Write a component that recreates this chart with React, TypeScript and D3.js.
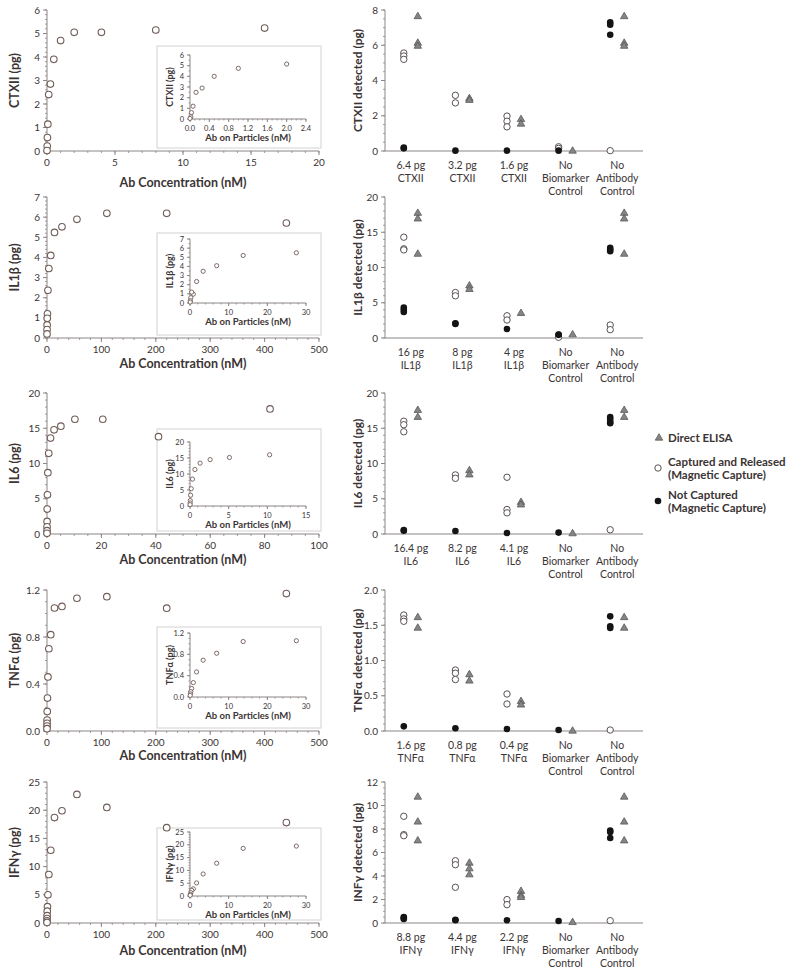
import * as React from "react";
import * as d3 from "d3";

// ---- dose-response (left panels) ----
const ctxAb = [16, 8, 4, 2, 1, 0.5, 0.25, 0.125, 0.0625, 0.031, 0.016, 0];
const ctxPg = [5.23, 5.15, 5.05, 5.05, 4.7, 3.9, 2.85, 2.4, 1.14, 0.57, 0.21, 0.02];
const ctxParticleAb = [2, 1, 0.5, 0.25, 0.125, 0.0625, 0.031, 0.016, 0];
const ctxParticlePg = [5.15, 4.75, 4.0, 2.9, 2.5, 1.2, 0.6, 0.2, 0.05];

const il1bAb = [440, 220, 110, 55, 27.5, 13.75, 6.9, 3.4, 1.7, 0.86, 0.43, 0.21, 0.11, 0.05];
const il1bPg = [5.71, 6.19, 6.19, 5.89, 5.52, 5.24, 4.1, 3.45, 2.37, 1.2, 0.98, 0.65, 0.42, 0.2];
const il1bParticleAb = [27.5, 13.75, 6.9, 3.4, 1.7, 0.86, 0.43, 0.21, 0.1, 0.05];
const il1bParticlePg = [5.49, 5.2, 4.08, 3.47, 2.35, 0.97, 1.19, 0.58, 0.25, 0.1];

const il6Ab = [82, 41, 20.5, 10.25, 5.1, 2.6, 1.3, 0.64, 0.32, 0.16, 0.08, 0.04, 0.02, 0.01, 0];
const il6Pg = [17.74, 13.8, 16.28, 16.28, 15.3, 14.78, 13.6, 11.44, 8.7, 5.55, 3.53, 1.79, 1.03, 0.47, 0.1];
const il6ParticleAb = [10.3, 5.1, 2.6, 1.3, 0.64, 0.32, 0.16, 0.08, 0.04, 0.02, 0.01];
const il6ParticlePg = [16.0, 15.16, 14.5, 13.4, 11.4, 8.4, 5.4, 3.37, 1.68, 0.95, 0.42];

const tnfAb = [440, 220, 110, 55, 27.5, 13.75, 6.9, 3.4, 1.7, 0.86, 0.43, 0.21, 0.11, 0.05, 0.027];
const tnfPg = [1.17, 1.045, 1.143, 1.13, 1.06, 1.047, 0.82, 0.7, 0.46, 0.28, 0.167, 0.093, 0.065, 0.042, 0.02];
const tnfParticleAb = [27.5, 13.75, 6.9, 3.4, 1.7, 0.86, 0.43, 0.21, 0.1, 0.05];
const tnfParticlePg = [1.055, 1.04, 0.82, 0.69, 0.47, 0.27, 0.16, 0.1, 0.06, 0.03];

const ifnAb = [440, 220, 110, 55, 27.5, 13.75, 6.9, 3.4, 1.7, 0.86, 0.43, 0.21, 0.11, 0.05, 0.027];
const ifnPg = [17.8, 16.9, 20.5, 22.8, 19.9, 18.7, 12.9, 8.6, 5.0, 2.9, 2.1, 1.3, 0.8, 0.4, 0.1];
const ifnParticleAb = [27.5, 13.75, 6.9, 3.4, 1.7, 0.86, 0.43, 0.21, 0.1, 0.05];
const ifnParticlePg = [19.5, 18.6, 12.8, 8.6, 5.1, 2.8, 2.2, 1.3, 0.6, 0.25];

// ---- capture experiment (right panels), one list per category ----
const ctxElisa = [[7.63, 6.12, 5.95], [2.98, 2.88], [1.79, 1.53], [0.0], [7.63, 6.12, 5.95]];
const ctxCaptured = [[5.56, 5.39, 5.2], [3.16, 2.73], [1.98, 1.69, 1.37], [0.24, 0.15], [0.02]];
const ctxNotCaptured = [[0.19, 0.15], [0.02], [0.02], [0.02], [7.3, 7.17, 6.6]];

const il1bElisa = [[17.7, 16.9, 11.9], [7.4, 6.9], [3.5], [0.47], [17.7, 16.9, 11.9]];
const il1bCaptured = [[14.3, 12.65, 12.5], [6.45, 5.98], [3.15, 2.55], [0.1], [1.84, 1.18]];
const il1bNotCaptured = [[4.33, 4.0, 3.7], [2.1, 2.0], [1.27], [0.5, 0.45], [12.8, 12.56, 12.3]];

const il6Elisa = [[17.55, 16.56], [9.0, 8.4], [4.5, 4.14], [0.05], [17.55, 16.56]];
const il6Captured = [[16.0, 15.5, 14.5], [8.38, 7.9], [8.05, 3.48, 3.0], [], [0.6]];
const il6NotCaptured = [[0.56, 0.47], [0.42], [0.14], [0.2], [16.6, 16.3, 15.9, 15.7]];

const tnfElisa = [[1.61, 1.46], [0.8, 0.71], [0.42, 0.37], [0.0], [1.61, 1.46]];
const tnfCaptured = [[1.645, 1.59, 1.556], [0.865, 0.82, 0.73], [0.525, 0.383], [], [0.014]];
const tnfNotCaptured = [[0.066], [0.038], [0.028], [0.014], [1.626, 1.485, 1.46]];

const ifnElisa = [[10.72, 8.6, 7.0], [5.1, 4.62, 4.11], [2.7, 2.35, 2.18], [0.05], [10.72, 8.6, 7.0]];
const ifnCaptured = [[9.08, 7.52, 7.43], [5.3, 4.96, 3.04], [1.99, 1.56], [], [0.2]];
const ifnNotCaptured = [[0.51, 0.43, 0.34], [0.28, 0.23], [0.23], [0.17], [7.86, 7.74, 7.23]];

// ---- labels ----
const controls = ["No\nBiomarker\nControl", "No\nAntibody\nControl"];
const ctxCategories = ["6.4 pg\nCTXII", "3.2 pg\nCTXII", "1.6 pg\nCTXII", ...controls];
const il1bCategories = ["16 pg\nIL1β", "8 pg\nIL1β", "4 pg\nIL1β", ...controls];
const il6Categories = ["16.4 pg\nIL6", "8.2 pg\nIL6", "4.1 pg\nIL6", ...controls];
const tnfCategories = ["1.6 pg\nTNFα", "0.8 pg\nTNFα", "0.4 pg\nTNFα", ...controls];
const ifnCategories = ["8.8 pg\nIFNγ", "4.4 pg\nIFNγ", "2.2 pg\nIFNγ", ...controls];

const leftYLabels = ["CTXII (pg)", "IL1β (pg)", "IL6 (pg)", "TNFα (pg)", "IFNγ (pg)"];
const rightYLabels = ["CTXII detected (pg)", "IL1β detected (pg)", "IL6 detected (pg)", "TNFα detected (pg)", "INFγ detected (pg)"];
const legendLabels = [["Direct ELISA"], ["Captured and Released", "(Magnetic Capture)"], ["Not Captured", "(Magnetic Capture)"]];

// ---- ticks ----
const ctxXTicks = [0, 5, 10, 15, 20];
const ctxYTicks = [0, 1, 2, 3, 4, 5, 6];
const ctxInsetXTicks = [0, 0.4, 0.8, 1.2, 1.6, 2.0, 2.4];
const wideXTicks = [0, 100, 200, 300, 400, 500];
const il6XTicks = [0, 20, 40, 60, 80, 100];
const il1bYTicks = [0, 1, 2, 3, 4, 5, 6, 7];
const twentyTicks = [0, 5, 10, 15, 20];
const tnfYTicks = [0, 0.4, 0.8, 1.2];
const ifnYTicks = [0, 5, 10, 15, 20, 25];
const insetXTicks30 = [0, 10, 20, 30];
const il6InsetXTicks = [0, 5, 10, 15];
const ctxRightTicks = [0, 2, 4, 6, 8];
const tnfRightTicks = [0, 0.5, 1.0, 1.5, 2.0];
const ifnRightTicks = [0, 2, 4, 6, 8, 10, 12];

const f0 = d3.format("d");
const f1 = d3.format(".1f");

const rows = [
  { x: ctxAb, y: ctxPg, ix: ctxParticleAb, iy: ctxParticlePg, xt: ctxXTicks, xm: 1, yt: ctxYTicks, ym: 0.2, yf: f0,
    ixt: ctxInsetXTicks, ixm: 0.1, ixf: f1, iyt: ctxYTicks, iym: 0.5, iyf: f0,
    elisa: ctxElisa, cap: ctxCaptured, notCap: ctxNotCaptured, cats: ctxCategories, rt: ctxRightTicks, rm: 0.5, rf: f0 },
  { x: il1bAb, y: il1bPg, ix: il1bParticleAb, iy: il1bParticlePg, xt: wideXTicks, xm: 20, yt: il1bYTicks, ym: 0.2, yf: f0,
    ixt: insetXTicks30, ixm: 2, ixf: f0, iyt: il1bYTicks, iym: 0.5, iyf: f0,
    elisa: il1bElisa, cap: il1bCaptured, notCap: il1bNotCaptured, cats: il1bCategories, rt: twentyTicks, rm: 1, rf: f0 },
  { x: il6Ab, y: il6Pg, ix: il6ParticleAb, iy: il6ParticlePg, xt: il6XTicks, xm: 5, yt: twentyTicks, ym: 1, yf: f0,
    ixt: il6InsetXTicks, ixm: 1, ixf: f0, iyt: twentyTicks, iym: 1, iyf: f0,
    elisa: il6Elisa, cap: il6Captured, notCap: il6NotCaptured, cats: il6Categories, rt: twentyTicks, rm: 1, rf: f0 },
  { x: tnfAb, y: tnfPg, ix: tnfParticleAb, iy: tnfParticlePg, xt: wideXTicks, xm: 20, yt: tnfYTicks, ym: 0.1, yf: f1,
    ixt: insetXTicks30, ixm: 2, ixf: f0, iyt: tnfYTicks, iym: 0.1, iyf: f1,
    elisa: tnfElisa, cap: tnfCaptured, notCap: tnfNotCaptured, cats: tnfCategories, rt: tnfRightTicks, rm: 0.1, rf: f1 },
  { x: ifnAb, y: ifnPg, ix: ifnParticleAb, iy: ifnParticlePg, xt: wideXTicks, xm: 20, yt: ifnYTicks, ym: 1, yf: f0,
    ixt: insetXTicks30, ixm: 2, ixf: f0, iyt: ifnYTicks, iym: 1, iyf: f0,
    elisa: ifnElisa, cap: ifnCaptured, notCap: ifnNotCaptured, cats: ifnCategories, rt: ifnRightTicks, rm: 0.5, rf: f0 },
];

// layout
const rowTops = [10, 197, 393, 590, 782];
const plotH = 141;
const insetBoxTop = [36, 36, 36, 37, 46];
const insetPlotTop = [45, 42, 49, 43, 50];
const xLabelDy = [32, 26, 26, 25, 28];

const FONT = "Lato, 'Open Sans', sans-serif";
const TEXT = "#3b3434";
const AXIS = "#8c8585";
const RING = "#6f5c57";

const minors = (domain, step) => d3.range(domain[0], domain[1] + step / 2, step);

const YAxis = ({ scale, x, ticks, minor, fmt, fs, len = 4 }) => {
  const [y0, y1] = scale.range();
  return (
    <g>
      <line x1={x} x2={x} y1={y0} y2={y1} stroke={AXIS} />
      {minors(scale.domain(), minor).map(v => (
        <line key={"m" + v} x1={x - len / 2} x2={x} y1={scale(v)} y2={scale(v)} stroke={AXIS} strokeWidth={0.8} />
      ))}
      {ticks.map(v => (
        <g key={v}>
          <line x1={x - len} x2={x} y1={scale(v)} y2={scale(v)} stroke={AXIS} />
          <text x={x - len - 3} y={scale(v)} dy="0.35em" textAnchor="end" fontSize={fs} fill={TEXT}>{fmt(v)}</text>
        </g>
      ))}
    </g>
  );
};

const XAxis = ({ scale, y, ticks, minor, fmt, fs, len = 4 }) => {
  const [x0, x1] = scale.range();
  return (
    <g>
      <line x1={x0} x2={x1} y1={y} y2={y} stroke={AXIS} />
      {minors(scale.domain(), minor).map(v => (
        <line key={"m" + v} x1={scale(v)} x2={scale(v)} y1={y} y2={y + len / 2} stroke={AXIS} strokeWidth={0.8} />
      ))}
      {ticks.map(v => (
        <g key={v}>
          <line x1={scale(v)} x2={scale(v)} y1={y} y2={y + len} stroke={AXIS} />
          <text x={scale(v)} y={y + len + 3} dy="0.75em" textAnchor="middle" fontSize={fs} fill={TEXT}>{fmt(v)}</text>
        </g>
      ))}
    </g>
  );
};

const VLabel = ({ x, y, text, fs }) => (
  <text transform={`translate(${x},${y}) rotate(-90)`} dy="0.35em" textAnchor="middle" fontSize={fs} fontWeight="bold" fill={TEXT}>{text}</text>
);

const LeftPanel = ({ row, i }) => {
  const top = rowTops[i];
  const bottom = top + plotH;
  const x = d3.scaleLinear().domain([0, d3.max(row.xt)]).range([47, 319]);
  const y = d3.scaleLinear().domain([0, d3.max(row.yt)]).range([bottom, top]);
  const iTop = top + insetPlotTop[i];
  const iBottom = iTop + 64;
  const ix = d3.scaleLinear().domain([0, d3.max(row.ixt)]).range([190, 306]);
  const iy = d3.scaleLinear().domain([0, d3.max(row.iyt)]).range([iBottom, iTop]);
  return (
    <g>
      <YAxis scale={y} x={47} ticks={row.yt} minor={row.ym} fmt={row.yf} fs={10} />
      <XAxis scale={x} y={bottom} ticks={row.xt} minor={row.xm} fmt={f0} fs={10} />
      <text x={183} y={bottom + xLabelDy[i]} dy="0.35em" textAnchor="middle" fontSize={12.5} fontWeight="bold" fill={TEXT}>Ab Concentration (nM)</text>
      <VLabel x={15} y={(top + bottom) / 2} text={leftYLabels[i]} fs={12.5} />
      <rect x={157} y={top + insetBoxTop[i]} width={164} height={138 - insetBoxTop[i]} fill="#fff" stroke="#d2d2d2" />
      <YAxis scale={iy} x={190} ticks={row.iyt} minor={row.iym} fmt={row.iyf} fs={7.5} len={3} />
      <XAxis scale={ix} y={iBottom} ticks={row.ixt} minor={row.ixm} fmt={row.ixf} fs={7.5} len={3} />
      <text x={248} y={iBottom + 19} dy="0.35em" textAnchor="middle" fontSize={9.5} fontWeight="bold" fill={TEXT}>Ab on Particles (nM)</text>
      <VLabel x={170} y={(iTop + iBottom) / 2} text={leftYLabels[i]} fs={9} />
      {row.ix.map((v, k) => (
        <circle key={"i" + k} cx={ix(v)} cy={iy(row.iy[k])} r={2.1} fill="#fff" stroke={RING} strokeWidth={0.9} />
      ))}
      {row.x.map((v, k) => (
        <circle key={k} cx={x(v)} cy={y(row.y[k])} r={3.3} fill="#fff" stroke={RING} strokeWidth={1.1} />
      ))}
    </g>
  );
};

const triangle = d3.symbol().type(d3.symbolTriangle).size(24)();

const RightPanel = ({ row, i }) => {
  const top = rowTops[i];
  const bottom = top + plotH;
  const x = d3.scaleBand().domain(d3.range(5)).range([385, 643]);
  const y = d3.scaleLinear().domain([0, d3.max(row.rt)]).range([bottom, top]);
  const cx = k => x(k) + x.bandwidth() / 2;
  return (
    <g>
      <YAxis scale={y} x={385} ticks={row.rt} minor={row.rm} fmt={row.rf} fs={10} />
      <line x1={385} x2={643} y1={bottom} y2={bottom} stroke={AXIS} />
      <VLabel x={358} y={(top + bottom) / 2} text={rightYLabels[i]} fs={12} />
      {row.cats.map((c, k) => (
        <text key={c} x={cx(k)} y={bottom + 14} textAnchor="middle" fontSize={10.5} fill={TEXT}>
          {c.split("\n").map((s, j) => (
            <tspan key={j} x={cx(k)} dy={j === 0 ? "0.35em" : 13}>{s}</tspan>
          ))}
        </text>
      ))}
      {row.cap.map((vals, k) => vals.map((v, j) => (
        <circle key={`c${k}-${j}`} cx={cx(k) - 7} cy={y(v)} r={3.2} fill="#fff" stroke="#5a5252" strokeWidth={1} />
      )))}
      {row.notCap.map((vals, k) => vals.map((v, j) => (
        <circle key={`n${k}-${j}`} cx={cx(k) - 7} cy={y(v)} r={3.3} fill="#141414" />
      )))}
      {row.elisa.map((vals, k) => vals.map((v, j) => (
        <path key={`e${k}-${j}`} d={triangle} transform={`translate(${cx(k) + 7},${y(v)})`} fill="#858585" stroke="#585858" strokeWidth={0.8} />
      )))}
    </g>
  );
};

const Legend = () => {
  const lines = [[438], [461.5, 474.5], [494.5, 507.5]];
  return (
    <g fontSize={11.5} fontWeight="bold" fill={TEXT}>
      <path d={triangle} transform="translate(659,438)" fill="#858585" stroke="#585858" strokeWidth={0.8} />
      <circle cx={658} cy={468} r={3.2} fill="#fff" stroke="#5a5252" />
      <circle cx={658} cy={501} r={3.3} fill="#141414" />
      {legendLabels.map((ls, k) => ls.map((s, j) => (
        <text key={`${k}-${j}`} x={668} y={lines[k][j]} dy="0.35em">{s}</text>
      )))}
    </g>
  );
};

export default function App() {
  return (
    <svg width={800} height={974} style={{ position: "absolute", left: 0, top: 0, background: "#fff" }} fontFamily={FONT}>
      {rows.map((row, i) => (
        <g key={i}>
          <LeftPanel row={row} i={i} />
          <RightPanel row={row} i={i} />
        </g>
      ))}
      <Legend />
    </svg>
  );
}
